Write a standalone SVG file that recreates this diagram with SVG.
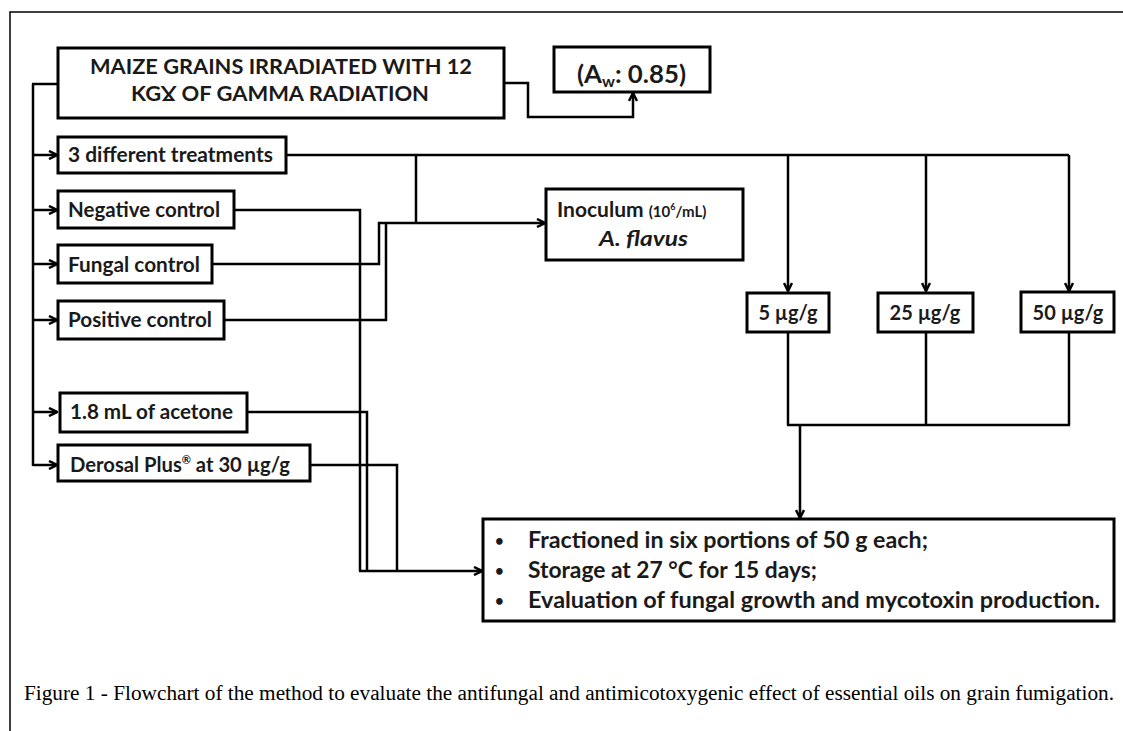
<svg xmlns="http://www.w3.org/2000/svg" width="1123" height="731" viewBox="0 0 1123 731">
<style>
.box{fill:#fff;stroke:#000;stroke-width:3}
.ln{fill:none;stroke:#000;stroke-width:2.5}
.t{font-family:Lato,"Liberation Sans",sans-serif;font-weight:bold;fill:#1a1a1a}
.cap{font-family:"Liberation Serif","Times New Roman",serif;fill:#000}
</style>
<defs>
<marker id="ah" viewBox="0 0 10 10" refX="9" refY="5" markerWidth="10" markerHeight="10" markerUnits="userSpaceOnUse" orient="auto">
<path d="M1,1 L9,5 L1,9" fill="none" stroke="#000" stroke-width="2.5"/>
</marker>
</defs>
<rect width="1123" height="731" fill="#fff"/>
<path d="M10,731 L10,12 L1123,12" fill="none" stroke="#000" stroke-width="1.5"/>

<g id="connectors">
<path class="ln" d="M33,84 L33,466 M32,84 L58,84"/>
<path class="ln" d="M33,155 L57,155" marker-end="url(#ah)"/>
<path class="ln" d="M33,210 L57,210" marker-end="url(#ah)"/>
<path class="ln" d="M33,264 L57,264" marker-end="url(#ah)"/>
<path class="ln" d="M33,320 L57,320" marker-end="url(#ah)"/>
<path class="ln" d="M33,412 L57,412" marker-end="url(#ah)"/>
<path class="ln" d="M33,465 L57,465" marker-end="url(#ah)"/>
<path class="ln" d="M504,83 L528,83 L528,117 L633,117 L633,93" marker-end="url(#ah)"/>
<path class="ln" d="M286,155 L1069,155 M416,155 L416,223"/>
<path class="ln" d="M788,155 L788,291" marker-end="url(#ah)"/>
<path class="ln" d="M926,155 L926,291" marker-end="url(#ah)"/>
<path class="ln" d="M1069,155 L1069,291" marker-end="url(#ah)"/>
<path class="ln" d="M234,210 L360,210 L360,571"/>
<path class="ln" d="M212,264 L379,264 L379,223 L545,223" marker-end="url(#ah)"/>
<path class="ln" d="M224,320 L386,320 L386,223"/>
<path class="ln" d="M247,412 L367,412 L367,571"/>
<path class="ln" d="M310,465 L397,465 L397,571"/>
<path class="ln" d="M359,571 L482,571" marker-end="url(#ah)"/>
<path class="ln" d="M788,332 L788,425 M926,332 L926,425 M1069,332 L1069,425 M787,425 L1070,425"/>
<path class="ln" d="M800,425 L800,518" marker-end="url(#ah)"/>
</g>

<g id="maize">
<rect class="box" x="58" y="48" width="446" height="70"/>
<text class="t" x="90" y="74" font-size="20" textLength="382" lengthAdjust="spacingAndGlyphs">MAIZE GRAINS IRRADIATED WITH 12</text>
<text class="t" x="131" y="101" font-size="20" textLength="298" lengthAdjust="spacingAndGlyphs">KGƔ OF GAMMA RADIATION</text>
</g>
<g id="aw">
<rect class="box" x="554" y="47" width="156" height="45"/>
<text class="t" x="577" y="83" font-size="24" textLength="109" lengthAdjust="spacingAndGlyphs">(A<tspan font-size="15" dy="4">w</tspan><tspan dy="-4">: 0.85)</tspan></text>
</g>
<g id="treatments">
<rect class="box" x="58" y="137" width="228" height="36"/>
<text class="t" x="68" y="162" font-size="20" textLength="205" lengthAdjust="spacingAndGlyphs">3 different treatments</text>
</g>
<g id="negative">
<rect class="box" x="58" y="191" width="176" height="37"/>
<text class="t" x="68" y="217" font-size="20" textLength="152" lengthAdjust="spacingAndGlyphs">Negative control</text>
</g>
<g id="fungal">
<rect class="box" x="58" y="245" width="154" height="38"/>
<text class="t" x="68" y="272" font-size="20" textLength="132" lengthAdjust="spacingAndGlyphs">Fungal control</text>
</g>
<g id="positive">
<rect class="box" x="58" y="301" width="166" height="38"/>
<text class="t" x="68" y="327" font-size="20" textLength="144" lengthAdjust="spacingAndGlyphs">Positive control</text>
</g>
<g id="acetone">
<rect class="box" x="60" y="393" width="187" height="39"/>
<text class="t" x="70" y="419" font-size="20" textLength="163" lengthAdjust="spacingAndGlyphs">1.8 mL of acetone</text>
</g>
<g id="derosal">
<rect class="box" x="58" y="445" width="252" height="36"/>
<text class="t" x="70" y="472" font-size="20" textLength="220" lengthAdjust="spacingAndGlyphs">Derosal Plus<tspan font-size="11" dy="-8">®</tspan><tspan dy="8"> at 30 µg/g</tspan></text>
</g>
<g id="inoculum">
<rect class="box" x="546" y="189" width="197" height="71"/>
<text class="t" x="557" y="217" font-size="21">Inoculum <tspan font-size="15">(10</tspan><tspan font-size="9" dy="-7">6</tspan><tspan font-size="15" dy="7">/mL)</tspan></text>
<text class="t" x="599" y="246" font-size="21" font-style="italic" textLength="89" lengthAdjust="spacingAndGlyphs">A. flavus</text>
</g>
<g id="dose5">
<rect class="box" x="747" y="293" width="82" height="39"/>
<text class="t" x="788" y="320" font-size="20" text-anchor="middle">5 µg/g</text>
</g>
<g id="dose25">
<rect class="box" x="878" y="293" width="95" height="39"/>
<text class="t" x="925" y="320" font-size="20" text-anchor="middle">25 µg/g</text>
</g>
<g id="dose50">
<rect class="box" x="1021" y="292" width="93" height="40"/>
<text class="t" x="1068" y="320" font-size="20" text-anchor="middle">50 µg/g</text>
</g>
<g id="final">
<rect class="box" x="483" y="519" width="631" height="102"/>
<g class="t" font-size="22">
<text x="495" y="546" font-size="15">•</text>
<text x="495" y="576" font-size="15">•</text>
<text x="495" y="606" font-size="15">•</text>
<text x="528" y="548" textLength="400" lengthAdjust="spacingAndGlyphs">Fractioned in six portions of 50 g each;</text>
<text x="528" y="578" textLength="289" lengthAdjust="spacingAndGlyphs">Storage at 27 °C for 15 days;</text>
<text x="528" y="608" textLength="572" lengthAdjust="spacingAndGlyphs">Evaluation of fungal growth and mycotoxin production.</text>
</g>
</g>
<text class="cap" x="24" y="700" font-size="20" textLength="1090" lengthAdjust="spacingAndGlyphs">Figure 1 - Flowchart of the method to evaluate the antifungal and antimicotoxygenic effect of essential oils on grain fumigation.</text>
</svg>
